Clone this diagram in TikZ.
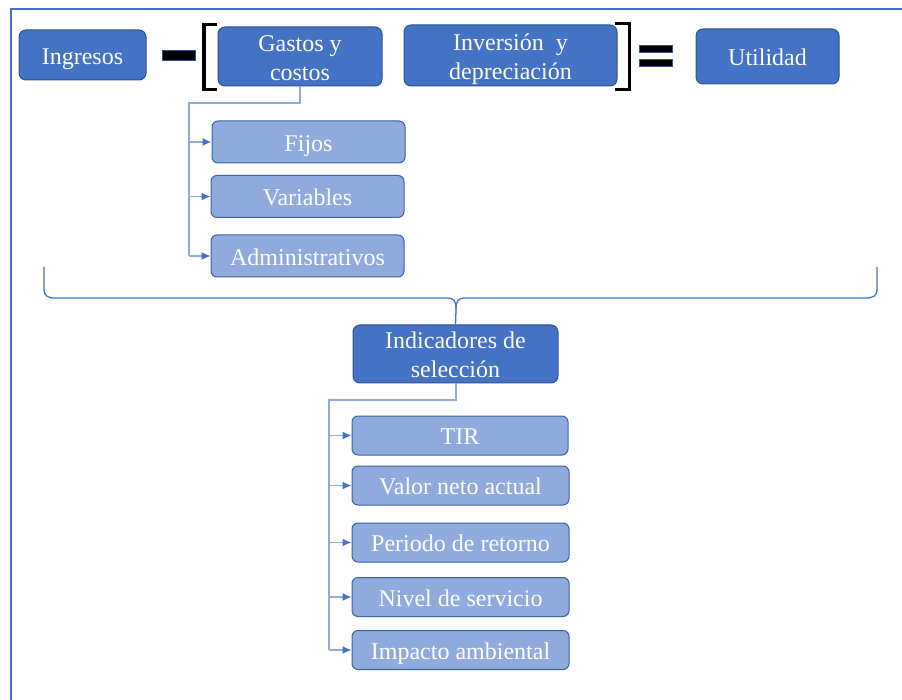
\documentclass[tikz,border=0pt]{standalone}
\usepackage{fontspec}
\setmainfont{Liberation Serif}
\usetikzlibrary{arrows.meta}
\definecolor{dblue}{HTML}{4472C4}
\definecolor{lblue}{HTML}{8FAADC}
\definecolor{bord}{HTML}{2F528F}
\newcommand\bxt[1]{\raisebox{-3.5pt}[\height][\depth]{\begin{tabular}{@{}c@{}}#1\end{tabular}}}
\begin{document}
\begin{tikzpicture}[x=1pt,y=-1pt,
  mainbox/.style={draw=bord, line width=1pt, fill=dblue, rounded corners=7pt, text=white,
    font=\fontsize{24}{29}\selectfont, inner sep=0pt},
  subbox/.style={draw=dblue!85!black, line width=1pt, fill=lblue, rounded corners=6pt, text=white,
    font=\fontsize{24}{29}\selectfont, inner sep=0pt},
  conn/.style={draw=lblue, line width=1.3pt},
  arr/.style={conn, -{Latex[length=9pt,width=8pt,color=dblue]}},
  sym/.style={fill=black, draw=bord, line width=0.6pt},
  brk/.style={draw=black, line width=3.5pt, line cap=butt, line join=miter}
]
\useasboundingbox (0,0) rectangle (902,700);
\fill[white] (0,0) rectangle (902,700);
% frame
\draw[dblue, line width=2.2pt] (11,701) -- (11,9) -- (903,9);

% top row
\node[mainbox, minimum width=127pt, minimum height=50pt] (ing) at (82.5,55) {\bxt{Ingresos}};
\node[mainbox, minimum width=164pt, minimum height=59pt] (gas) at (300,56.5) {\bxt{Gastos y\\costos}};
\node[mainbox, minimum width=213pt, minimum height=61pt] (inv) at (510.5,55.5) {\bxt{Inversión\ \ y\\depreciación}};
\node[mainbox, minimum width=143pt, minimum height=55pt] (uti) at (767.5,56.5) {\bxt{Utilidad}};

% operators
\path[sym] (162,50) rectangle (195,60);
\path[sym] (639,45) rectangle (672,52);
\path[sym] (639,59) rectangle (672,66);
\draw[brk] (217,24.5) -- (204,24.5) -- (204,89.5) -- (217,89.5);
\draw[brk] (615,23.5) -- (629.5,23.5) -- (629.5,89.5) -- (615,89.5);

% sub boxes of gastos
\node[subbox, minimum width=193pt, minimum height=42pt] (fij) at (308.5,142) {\bxt{Fijos}};
\node[subbox, minimum width=193pt, minimum height=42pt] (var) at (307.5,196.5) {\bxt{Variables}};
\node[subbox, minimum width=193pt, minimum height=42pt] (adm) at (307.5,256) {\bxt{Administrativos}};

\coordinate (g1) at (189,103);
\draw[conn] (gas.south) |- (g1) -- (g1 |- adm.west);
\draw[arr] (g1 |- fij.west) -- (fij.west);
\draw[arr] (g1 |- var.west) -- (var.west);
\draw[arr] (g1 |- adm.west) -- (adm.west);

% brace
\node[mainbox, minimum width=205pt, minimum height=58pt] (ind) at (455.5,354) {\bxt{Indicadores de\\selección}};
\draw[dblue, line width=1.3pt]
  (44,267) -- (44,288) .. controls (44,296) and (47,298) .. (56,298)
  -- (446,298) .. controls (454,298) and (456,300) .. (456,310) -- (ind.north);
\draw[dblue, line width=1.3pt]
  (877,267) -- (877,288) .. controls (877,296) and (874,298) .. (865,298)
  -- (466,298) .. controls (458,298) and (456,300) .. (456,310);

% indicator boxes
\node[subbox, minimum width=216pt, minimum height=39pt] (tir) at (460,435.5) {\bxt{TIR}};
\node[subbox, minimum width=217pt, minimum height=39pt] (van) at (460.5,485.5) {\bxt{Valor neto actual}};
\node[subbox, minimum width=217pt, minimum height=39pt] (per) at (460.5,542.5) {\bxt{Periodo de retorno}};
\node[subbox, minimum width=217pt, minimum height=39pt] (niv) at (460.5,597) {\bxt{Nivel de servicio}};
\node[subbox, minimum width=217pt, minimum height=39pt] (imp) at (460.5,650) {\bxt{Impacto ambiental}};

\coordinate (i1) at (329,400);
\draw[conn] (ind.south -| 456,0) |- (i1) -- (i1 |- imp.west);
\draw[arr] (i1 |- tir.west) -- (tir.west);
\draw[arr] (i1 |- van.west) -- (van.west);
\draw[arr] (i1 |- per.west) -- (per.west);
\draw[arr] (i1 |- niv.west) -- (niv.west);
\draw[arr] (i1 |- imp.west) -- (imp.west);
\end{tikzpicture}
\end{document}
